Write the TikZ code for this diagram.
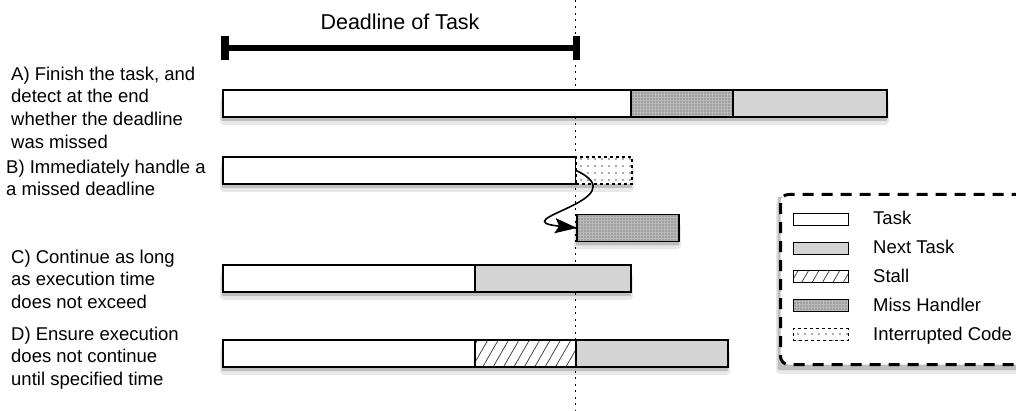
\documentclass[tikz,border=0pt]{standalone}
\usepackage{fontspec}
\setmainfont{Liberation Sans}
\usetikzlibrary{arrows.meta,positioning,patterns.meta,backgrounds}

\tikzset{
  seg/.style={draw, line width=1.8pt, minimum height=27pt, inner sep=0pt, outer sep=0pt, anchor=west},
  taskfill/.style={fill=white},
  nextfill/.style={fill=gray!34},
  stallfill/.style={preaction={fill=white}, pattern={Lines[angle=60,distance=9pt,line width=0.7pt]}, pattern color=black!80},
  missfill/.style={preaction={fill=gray!55}, pattern={Dots[distance=3pt,radius=0.7pt]}, pattern color=black!70},
  intrfill/.style={preaction={fill=white}, pattern={Dots[distance=7pt,radius=0.9pt]}, pattern color=gray!70!black, dash pattern=on 3pt off 3pt},
  swatch/.style={draw, line width=1pt, minimum width=55pt, minimum height=12pt, inner sep=0pt, outer sep=0pt},
  lbl/.style={anchor=north west, inner sep=0pt, align=left, font=\fontsize{18.5}{22.7}\selectfont},
  shadowA/.style={fill=gray!18, rounded corners=4pt},
  shadowB/.style={fill=gray!50, rounded corners=1pt},
}
\newcommand{\castshadow}[2]{%
  \fill[shadowA] ([shift={(-3pt,-8pt)}]#1.north west) rectangle ([shift={(2pt,-8pt)}]#2.south east);
  \fill[shadowB] ([shift={(-1.5pt,-4pt)}]#1.north west) rectangle ([shift={(0pt,-4pt)}]#2.south east);
}

\begin{document}
\begin{tikzpicture}[x=1pt,y=-1pt]
        \useasboundingbox (0,0) rectangle (1016,411);

        % Deadline marker
        \coordinate (dtop) at (575.5,0);
        \coordinate (dbot) at (575.5,411);
        \draw[line width=1pt, dash pattern=on 2pt off 4.5pt] (dtop) -- (dbot);

        \coordinate (dl0) at (221,48);
        \coordinate (dl1) at (580,48);
        \draw[line width=6pt, {Bar[width=24pt,line width=7.5pt]}-{Bar[width=24pt,line width=7.5pt]}] (dl0) -- (dl1);
        \node[font=\fontsize{21.5}{26}\selectfont, inner sep=0pt, anchor=base] (dltext) at (400,30) {Deadline of Task};

        % Strategy labels
        \node[lbl] (labA) at (11,66.5) {A) Finish the task, and\\detect at the end\\whether the deadline\\was missed};
        \node[lbl] (labB) at (6,159.5) {B) Immediately handle a\\a missed deadline};
        \node[lbl] (labC) at (11,249.5) {C) Continue as long\\as execution time\\does not exceed};
        \node[lbl] (labD) at (11,326.5) {D) Ensure execution\\does not continue\\until specified time};

        % A) finish, then detect
        \node[seg,taskfill,minimum width=408pt] (taskA) at (223,103.5) {};
        \node[seg,missfill,minimum width=102pt,right=0pt of taskA] (missA) {};
        \node[seg,nextfill,minimum width=154pt,right=0pt of missA] (nextA) {};

        % B) handle immediately
        \node[seg,taskfill,minimum width=353pt] (taskB) at (223,170.5) {};
        \node[seg,intrfill,minimum width=56pt,right=0pt of taskB] (intrB) {};
        \node[seg,missfill,minimum width=102pt] (missB) at (577,228) {};
        \draw[line width=1.6pt,-{Stealth[length=22pt,width=15pt,inset=4pt]}] (taskB.east) .. controls +(64,29.5) and +(-77,-8) .. (missB.west);

        % C) continue
        \node[seg,taskfill,minimum width=252pt] (taskC) at (223,278.5) {};
        \node[seg,nextfill,minimum width=156pt,right=0pt of taskC] (nextC) {};

        % D) stall until deadline
        \node[seg,taskfill,minimum width=252pt] (taskD) at (223,353.5) {};
        \node[seg,stallfill,minimum width=101pt,right=0pt of taskD] (stallD) {};
        \node[seg,nextfill,minimum width=152pt,right=0pt of stallD] (nextD) {};

        % Legend
        \node[draw, line width=3pt, dash pattern=on 11pt off 8pt, rounded corners=8pt, fill=white,
          minimum width=250pt, minimum height=170pt, anchor=north west] (legend) at (779,193) {};
        \foreach \sty/\txt [count=\i] in {taskfill/Task, nextfill/Next Task, stallfill/Stall, missfill/Miss Handler, intrfill/Interrupted Code} {
            \node[swatch,\sty] (sw\i) at (820.5,{219.5+28.75*(\i-1)}) {};
            \node[anchor=base west, inner sep=0pt, font=\fontsize{18.5}{22.7}\selectfont] (key\i) at (873,{225+28.75*(\i-1)}) {\txt};
        }

        % Shadows
        \begin{pgfonlayer}{background}
            \castshadow{taskA}{nextA}
            \castshadow{taskB}{intrB}
            \castshadow{missB}{missB}
            \castshadow{taskC}{nextC}
            \castshadow{taskD}{nextD}
            \castshadow{legend}{legend}
        \end{pgfonlayer}

    \end{tikzpicture}
\end{document}
